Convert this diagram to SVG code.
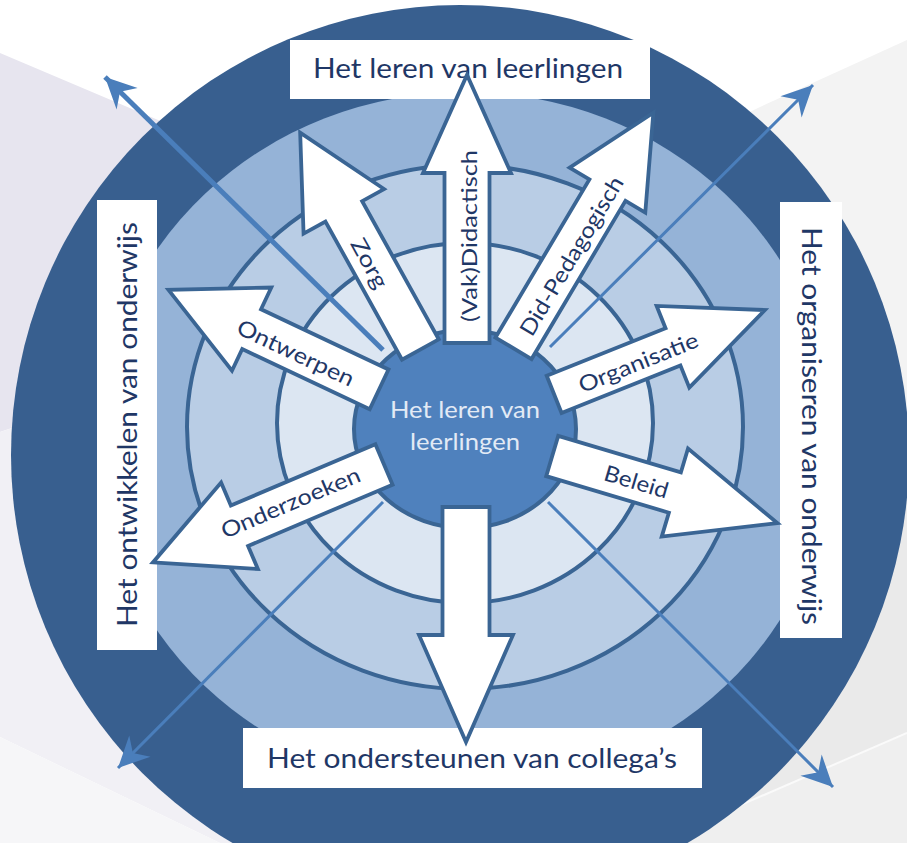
<svg xmlns="http://www.w3.org/2000/svg" width="907" height="843" viewBox="0 0 907 843">
<style>
.big{font-family:Lato,"Liberation Sans",sans-serif;fill:#1f3766;font-size:27px}
.arr{fill:#fff;stroke:#3a6594;stroke-width:3.8;stroke-linejoin:miter}
.atxt{font-family:Lato,"Liberation Sans",sans-serif;fill:#1f3766;font-size:22px;text-anchor:middle;dominant-baseline:central}
.ring{stroke:#3a6594;stroke-width:4}
.ray{stroke:#4a7ebb;fill:none;marker-end:url(#ah)}
</style>
<defs>
<marker id="ah" viewBox="-32 -17 34 34" markerWidth="34" markerHeight="34" refX="0" refY="0" orient="auto" markerUnits="userSpaceOnUse">
<path d="M0,0 L-31,-15 L-21,0 L-31,15 Z" fill="#4a7ebb"/>
</marker>
</defs>

<!-- backdrop planes -->
<g id="backdrop">
<rect width="907" height="843" fill="#ffffff"/>
<polygon points="0,53 465,250 465,430 15,427 0,432" fill="#e7e5ef"/>
<polygon points="0,432 15,427 465,430 465,843 220,843 0,737" fill="#f1f0f5"/>
<polygon points="0,737 220,843 0,843" fill="#f6f6f8"/>
<polygon points="907,40 760,107 465,250 465,450 907,450" fill="#f3f3f3"/>
<polygon points="907,450 465,450 465,843 653,843 907,733" fill="#eaeaea"/>
<polygon points="907,733 653,843 907,843" fill="#efefef"/>
<line x1="653" y1="843" x2="907" y2="733" stroke="#fafafa" stroke-width="2"/>
</g>

<!-- concentric rings -->
<g id="rings">
<ellipse cx="460" cy="455" rx="449" ry="450" fill="#385f8f"/>
<ellipse cx="465" cy="440" rx="368" ry="348" fill="#95b3d7"/>
<ellipse class="ring" cx="465" cy="427" rx="278" ry="262" fill="#b9cde5"/>
<ellipse class="ring" cx="465" cy="423" rx="188" ry="180" fill="#dce6f2"/>
</g>

<!-- thin diagonal arrows -->
<g id="connectors">
<line class="ray" x1="383" y1="350" x2="105" y2="77" stroke-width="5"/>
<line class="ray" x1="550" y1="347" x2="813" y2="85" stroke-width="3"/>
<line class="ray" x1="383" y1="502" x2="118" y2="768" stroke-width="3"/>
<line class="ray" x1="548" y1="502" x2="833" y2="787" stroke-width="3"/>
</g>

<g id="center">
<ellipse class="ring" cx="465" cy="429" rx="111" ry="99" fill="#4f81bd"/>
<text x="465" y="418" font-family="Lato,'Liberation Sans',sans-serif" font-size="24" fill="#e2eaf5" text-anchor="middle" textLength="150" lengthAdjust="spacingAndGlyphs">Het leren van</text>
<text x="465" y="450" font-family="Lato,'Liberation Sans',sans-serif" font-size="24" fill="#e2eaf5" text-anchor="middle" textLength="110" lengthAdjust="spacingAndGlyphs">leerlingen</text>
</g>

<!-- outer labels -->
<g id="label-top">
<rect x="290" y="40" width="360" height="59" fill="#fff"/>
<text class="big" x="468" y="78" font-size="26" text-anchor="middle" textLength="310" lengthAdjust="spacingAndGlyphs">Het leren van leerlingen</text>
</g>
<g id="label-bottom">
<rect x="243" y="728" width="459" height="60" fill="#fff"/>
<text class="big" x="472" y="768" font-size="28" text-anchor="middle" textLength="410" lengthAdjust="spacingAndGlyphs">Het ondersteunen van collega’s</text>
</g>
<g id="label-left">
<rect x="97" y="200" width="60" height="450" fill="#fff"/>
<text class="big" transform="translate(137,424.5) rotate(-90)" text-anchor="middle" textLength="405" lengthAdjust="spacingAndGlyphs">Het ontwikkelen van onderwijs</text>
</g>
<g id="label-right">
<rect x="780" y="202" width="62" height="436" fill="#fff"/>
<text class="big" transform="translate(802,426) rotate(90)" text-anchor="middle" textLength="398" lengthAdjust="spacingAndGlyphs">Het organiseren van onderwijs</text>
</g>

<!-- block arrows radiating from the centre -->
<g id="arrow-didactisch" transform="translate(467,430)">
<path class="arr" d="M-22.5,-87 L-22.5,-257 L-44,-257 L0,-355 L44,-257 L22.5,-257 L22.5,-87 Z"/>
<text class="atxt" transform="translate(1,-194) rotate(-90)" textLength="172" lengthAdjust="spacingAndGlyphs">(Vak)Didactisch</text>
</g>
<g id="arrow-zorg" transform="translate(465,430) rotate(-29)">
<path class="arr" d="M-21,-92 L-21,-250 L-46,-250 L0,-340 L46,-250 L21,-250 L21,-92 Z"/>
<text class="atxt" transform="translate(-2,-192) rotate(90)" textLength="54" lengthAdjust="spacingAndGlyphs">Zorg</text>
</g>
<g id="arrow-didped" transform="translate(465,430) rotate(30.7)">
<path class="arr" d="M-21,-95 L-21,-279 L-44,-279 L0,-369 L44,-279 L21,-279 L21,-95 Z"/>
<text class="atxt" transform="translate(2,-204) rotate(-90)" textLength="181" lengthAdjust="spacingAndGlyphs">Did-Pedagogisch</text>
</g>
<g id="arrow-ontwerpen" transform="translate(465,430) rotate(-64.7)">
<path class="arr" d="M-22,-95 L-22,-236 L-46,-236 L0,-328 L46,-236 L22,-236 L22,-95 Z"/>
<text class="atxt" transform="translate(-2,-186) rotate(90)" textLength="127" lengthAdjust="spacingAndGlyphs">Ontwerpen</text>
</g>
<g id="arrow-organisatie" transform="translate(465,430) rotate(68.2)">
<path class="arr" d="M-20,-96 L-20,-224 L-44,-224 L0,-323 L44,-224 L20,-224 L20,-96 Z"/>
<text class="atxt" transform="translate(1,-186) rotate(-90)" textLength="127" lengthAdjust="spacingAndGlyphs">Organisatie</text>
</g>
<g id="arrow-beleid" transform="translate(465,430) rotate(106.6)">
<path class="arr" d="M-21,-91 L-21,-219 L-46,-219 L0,-326 L46,-219 L21,-219 L21,-91 Z"/>
<text class="atxt" transform="translate(0,-179) rotate(-90)" textLength="66" lengthAdjust="spacingAndGlyphs">Beleid</text>
</g>
<g id="arrow-onderzoeken" transform="translate(465,430) rotate(-113)">
<path class="arr" d="M-22,-88 L-22,-245 L-47,-245 L0,-339 L47,-245 L22,-245 L22,-88 Z"/>
<text class="atxt" transform="translate(2,-189) rotate(90)" textLength="149" lengthAdjust="spacingAndGlyphs">Onderzoeken</text>
</g>
<g id="arrow-bottom" transform="translate(466,430) rotate(180)">
<path class="arr" d="M-23.5,-77 L-23.5,-205 L-47,-205 L0,-312 L47,-205 L23.5,-205 L23.5,-77 Z"/>
</g>
</svg>
